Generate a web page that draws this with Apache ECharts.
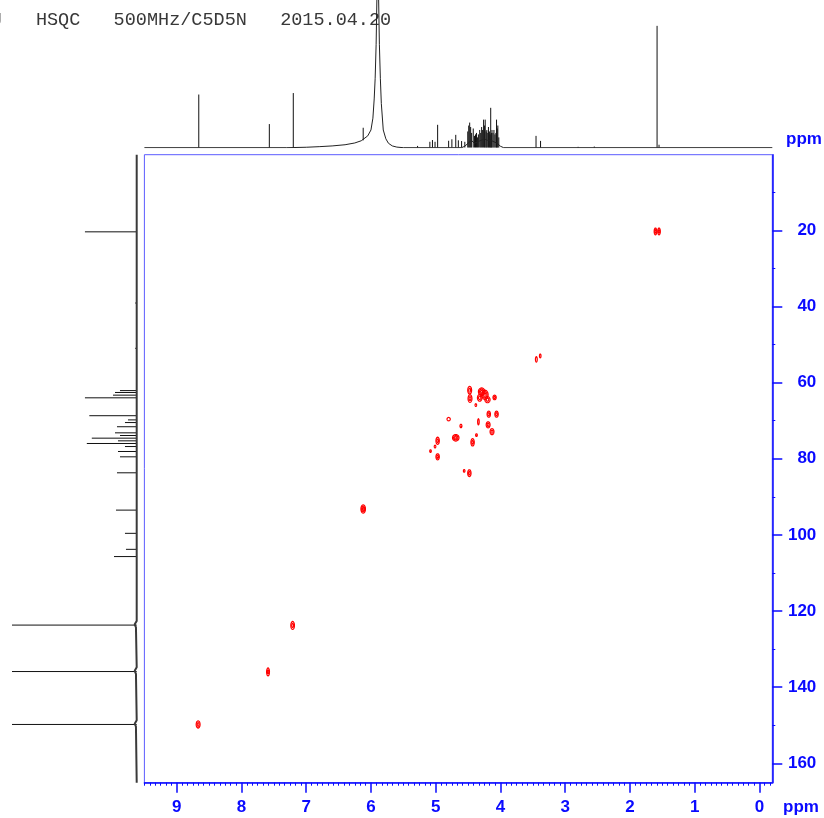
<!DOCTYPE html>
<html>
<head>
<meta charset="utf-8">
<script src="https://cdn.jsdelivr.net/npm/echarts@6/dist/echarts.min.js"></script>
<style>
  html, body { margin: 0; padding: 0; background: #ffffff; }
  #chart { width: 824px; height: 818px; }
</style>
</head>
<body>
<div id="chart"></div>
<script>
// Acquisition header line
const headerText = 'J   HSQC   500MHz/C5D5N   2015.04.20';

// Plotted ranges (ppm)
const hRange = [-0.2, 9.5];
const cRange = [0.14, 165.1];

// Tick labels
const hTicks = [0, 1, 2, 3, 4, 5, 6, 7, 8, 9];
const cTicks = [20, 40, 60, 80, 100, 120, 140, 160];
const cMinorTicks = [10, 30, 50, 70, 90, 110, 130, 150];

// 1H projection, sharp lines: [ppm, height, base]
const protonLines = [
  [8.66, 0.36], [7.57, 0.16], [7.20, 0.37], [6.12, 0.135, 0.05],
  [5.28, 0.012], [5.09, 0.04], [5.05, 0.052], [5.01, 0.04], [4.97, 0.155],
  [4.80, 0.047], [4.75, 0.057], [4.69, 0.087], [4.65, 0.05], [4.60, 0.045], [4.55, 0.04],
  [4.505, 0.11], [4.49, 0.15], [4.475, 0.17], [4.46, 0.14], [4.445, 0.1], [4.42, 0.13],
  [4.40, 0.08], [4.385, 0.09], [4.37, 0.1], [4.355, 0.07], [4.34, 0.09], [4.32, 0.12],
  [4.305, 0.1], [4.29, 0.14], [4.275, 0.12], [4.26, 0.19], [4.245, 0.15], [4.235, 0.19],
  [4.22, 0.11], [4.21, 0.12], [4.195, 0.1], [4.185, 0.14], [4.17, 0.11], [4.16, 0.09],
  [4.15, 0.27], [4.14, 0.1], [4.13, 0.12], [4.115, 0.1], [4.10, 0.12], [4.085, 0.09],
  [4.07, 0.1], [4.06, 0.19], [4.05, 0.13], [4.04, 0.15], [4.025, 0.07],
  [3.45, 0.08], [3.38, 0.046], [2.80, 0.006], [2.55, 0.008], [1.58, 0.825], [1.55, 0.02]
];

// 1H projection, broad components and baseline: [ppm, height]
const protonEnvelope = [
  [9.5, 0], [7.3, 0], [7.0, 0.003], [6.8, 0.007], [6.6, 0.012], [6.4, 0.02],
  [6.25, 0.032], [6.15, 0.047], [6.05, 0.08], [6.0, 0.12], [5.97, 0.2], [5.95, 0.33],
  [5.935, 0.47], [5.92, 0.7], [5.905, 1.1], [5.895, 1.3], [5.885, 1.1], [5.87, 0.7],
  [5.855, 0.47], [5.84, 0.3], [5.81, 0.12], [5.77, 0.06], [5.73, 0.03], [5.67, 0.012],
  [5.6, 0.004], [5.5, 0], [4.6, 0], [4.55, 0.01], [4.5, 0.03], [4.45, 0.05], [4.4, 0.03],
  [4.35, 0.04], [4.3, 0.05], [4.25, 0.06], [4.2, 0.05], [4.15, 0.05], [4.1, 0.04],
  [4.05, 0.03], [4.0, 0.01], [3.95, 0], [-0.2, 0]
];

// 13C projection, lines: [ppm, height]
const carbonLines = [
  [20.4, 0.415], [39.1, 0.012], [51.0, 0.012], [62.1, 0.134], [62.6, 0.174], [63.3, 0.19],
  [64.0, 0.415], [68.7, 0.38], [69.8, 0.07], [70.5, 0.094], [71.6, 0.158], [73.2, 0.174],
  [73.9, 0.134], [74.6, 0.36], [75.3, 0.15], [76.0, 0.40], [76.8, 0.094], [78.1, 0.15],
  [79.5, 0.134], [83.7, 0.158], [93.5, 0.166], [99.6, 0.094], [103.8, 0.086], [105.7, 0.182],
  [123.7, 1.6], [135.9, 1.6], [149.8, 1.6]
];

// 13C projection, baseline with solvent wings: [ppm, height]
const carbonEnvelope = [
  [0.14, 0], [122.6, 0], [123.1, 0.006], [123.5, 0.016], [123.7, 0.024], [123.9, 0.016],
  [124.3, 0.006], [124.8, 0], [134.8, 0], [135.3, 0.006], [135.7, 0.016], [135.9, 0.024],
  [136.1, 0.016], [136.5, 0.006], [137.0, 0], [148.7, 0], [149.2, 0.006], [149.6, 0.016],
  [149.8, 0.024], [150.0, 0.016], [150.4, 0.006], [150.9, 0], [165.1, 0]
];

// HSQC cross peaks: [1H ppm, 13C ppm, 1H half-width, 13C half-width, contour levels]
const crossPeaks = [
  [8.67, 149.8, 0.030, 0.95, 2],
  [7.59, 136.0, 0.022, 1.05, 2],
  [7.21, 123.8, 0.028, 1.05, 2],
  [6.12, 93.2, 0.035, 1.1, 3],
  [1.605, 20.3, 0.02, 0.9, 2],
  [1.55, 20.3, 0.02, 0.9, 2],
  [3.445, 53.9, 0.014, 0.7, 1],
  [3.385, 53.0, 0.012, 0.5, 1],
  [4.475, 62.0, 0.03, 1.0, 2],
  [4.47, 64.2, 0.03, 1.0, 2],
  [4.29, 62.4, 0.05, 1.0, 3],
  [4.24, 63.2, 0.05, 1.2, 3],
  [4.32, 64.0, 0.035, 0.9, 2],
  [4.20, 64.5, 0.04, 0.8, 2],
  [4.09, 63.9, 0.025, 0.6, 2],
  [4.38, 65.9, 0.012, 0.35, 1],
  [4.18, 68.3, 0.026, 0.8, 2],
  [4.06, 68.3, 0.026, 0.8, 2],
  [4.19, 71.1, 0.03, 0.8, 2],
  [4.13, 72.9, 0.03, 0.8, 2],
  [4.34, 70.3, 0.012, 0.8, 1],
  [4.80, 69.6, 0.025, 0.45, 1],
  [4.61, 71.4, 0.015, 0.45, 1],
  [4.37, 73.8, 0.013, 0.35, 1],
  [4.69, 74.5, 0.05, 0.85, 3],
  [4.43, 75.7, 0.026, 0.95, 2],
  [4.97, 75.3, 0.026, 0.95, 2],
  [5.01, 76.8, 0.012, 0.35, 1],
  [5.08, 78.0, 0.012, 0.35, 1],
  [4.97, 79.5, 0.026, 0.8, 2],
  [4.56, 83.2, 0.012, 0.35, 1],
  [4.48, 83.8, 0.026, 0.9, 2]
];

// 1/12 ppm minor ticks on the 1H axis
const hMinorTicks = [];
for (let k = -2; k <= 114; k++) {
  if (k % 12 !== 0) hMinorTicks.push(k / 12);
}

const AXIS_BLUE = '#0a0aff';
const labelFont = {
  color: AXIS_BLUE, fontFamily: 'Liberation Sans, Arial, sans-serif',
  fontWeight: 'bold', fontSize: 17
};

// One vertical/horizontal line per projection line
function stickRenderer(horizontal) {
  return function (params, api) {
    const p = api.value(0), h = api.value(1), b = api.value(2) || 0;
    const a = horizontal ? api.coord([b, p]) : api.coord([p, b]);
    const t = horizontal ? api.coord([h, p]) : api.coord([p, h]);
    return {
      type: 'line',
      shape: { x1: a[0], y1: a[1], x2: t[0], y2: t[1] },
      style: { stroke: '#111111', lineWidth: 1 }
    };
  };
}

// Concentric elliptical contour rings around each cross peak
function contourRenderer(params, api) {
  const c = api.coord([api.value(0), api.value(1)]);
  const s = api.size([api.value(2), api.value(3)]);
  const rx = Math.abs(s[0]), ry = Math.abs(s[1]);
  const n = api.value(4);
  const children = [];
  for (let i = 0; i < n; i++) {
    const f = 1 - i / n;
    const pts = [];
    for (let j = 0; j < 24; j++) {
      const ang = (j / 24) * Math.PI * 2;
      pts.push([c[0] + Math.max(rx * f, 0.6) * Math.cos(ang), c[1] + Math.max(ry * f, 0.6) * Math.sin(ang)]);
    }
    children.push({
      type: 'polygon',
      shape: { points: pts },
      style: { fill: 'none', stroke: '#ff0000', lineWidth: 1.2 }
    });
  }
  return { type: 'group', children: children };
}

const chart = echarts.init(document.getElementById('chart'), null, { renderer: 'canvas' });

const option = {
  animation: false,
  backgroundColor: '#ffffff',
  grid: [
    { left: 144.4, top: 154.7, width: 627.9, height: 628, show: true,
      borderColor: '#5c5cff', borderWidth: 1, backgroundColor: 'transparent' },
    { left: 144.4, top: 0, width: 627.9, height: 147.7 },
    { left: 12, top: 154.7, width: 124.7, height: 628 }
  ],
  xAxis: [
    { gridIndex: 0, type: 'value', min: hRange[0], max: hRange[1], inverse: true, position: 'bottom',
      axisLine: { show: true, onZero: false, lineStyle: { color: AXIS_BLUE, width: 1.5 } },
      axisTick: { show: true, length: 10, customValues: hTicks, lineStyle: { color: AXIS_BLUE, width: 1.5 } },
      axisLabel: Object.assign({ show: true, margin: 16, customValues: hTicks }, labelFont),
      splitLine: { show: false } },
    { gridIndex: 0, type: 'value', min: hRange[0], max: hRange[1], inverse: true, position: 'bottom',
      axisLine: { show: false, onZero: false },
      axisTick: { show: true, length: 3, customValues: hMinorTicks, lineStyle: { color: AXIS_BLUE, width: 1 } },
      axisLabel: { show: false }, splitLine: { show: false } },
    { gridIndex: 1, type: 'value', min: hRange[0], max: hRange[1], inverse: true, show: false },
    { gridIndex: 2, type: 'value', min: 0, max: 1, inverse: true, show: false }
  ],
  yAxis: [
    { gridIndex: 0, type: 'value', min: cRange[0], max: cRange[1], inverse: true, position: 'right',
      axisLine: { show: true, onZero: false, lineStyle: { color: AXIS_BLUE, width: 1.5 } },
      axisTick: { show: true, length: 10, customValues: cTicks, lineStyle: { color: AXIS_BLUE, width: 1.5 } },
      axisLabel: Object.assign({ show: true, margin: 44, align: 'right', customValues: cTicks }, labelFont),
      splitLine: { show: false } },
    { gridIndex: 0, type: 'value', min: cRange[0], max: cRange[1], inverse: true, position: 'right',
      axisLine: { show: false, onZero: false },
      axisTick: { show: true, length: 3, customValues: cMinorTicks, lineStyle: { color: AXIS_BLUE, width: 1 } },
      axisLabel: { show: false }, splitLine: { show: false } },
    { gridIndex: 1, type: 'value', min: 0, max: 1, show: false },
    { gridIndex: 2, type: 'value', min: cRange[0], max: cRange[1], inverse: true, show: false }
  ],
  series: [
    { type: 'line', xAxisIndex: 2, yAxisIndex: 2, data: protonEnvelope, showSymbol: false,
      symbol: 'none', clip: true, lineStyle: { color: '#222222', width: 1 }, silent: true },
    { type: 'custom', xAxisIndex: 2, yAxisIndex: 2, clip: true, silent: true,
      data: protonLines.map(d => [d[0], d[1], d[2] || 0]),
      encode: { x: 0, y: 1 }, renderItem: stickRenderer(false) },
    { type: 'line', xAxisIndex: 3, yAxisIndex: 3, data: carbonEnvelope.map(d => [d[1], d[0]]),
      showSymbol: false, symbol: 'none', clip: true,
      lineStyle: { color: '#3a3a3a', width: 2 }, silent: true },
    { type: 'custom', xAxisIndex: 3, yAxisIndex: 3, clip: true, silent: true,
      data: carbonLines.map(d => [d[0], d[1], 0]),
      encode: { x: 1, y: 0 }, renderItem: stickRenderer(true) },
    { type: 'custom', xAxisIndex: 0, yAxisIndex: 0, clip: true, silent: true,
      data: crossPeaks, encode: { x: 0, y: 1 }, renderItem: contourRenderer }
  ],
  graphic: [
    { type: 'text', left: -8.5, top: 11, silent: true,
      style: { text: headerText, fill: '#383838', font: '18.5px "Liberation Mono", "Courier New", monospace' } },
    { type: 'text', left: 786, top: 131, silent: true,
      style: { text: 'ppm', fill: AXIS_BLUE, font: 'bold 17px "Liberation Sans", Arial, sans-serif' } },
    { type: 'text', left: 783, top: 799, silent: true,
      style: { text: 'ppm', fill: AXIS_BLUE, font: 'bold 17px "Liberation Sans", Arial, sans-serif' } }
  ]
};

chart.setOption(option);
</script>
</body>
</html>
